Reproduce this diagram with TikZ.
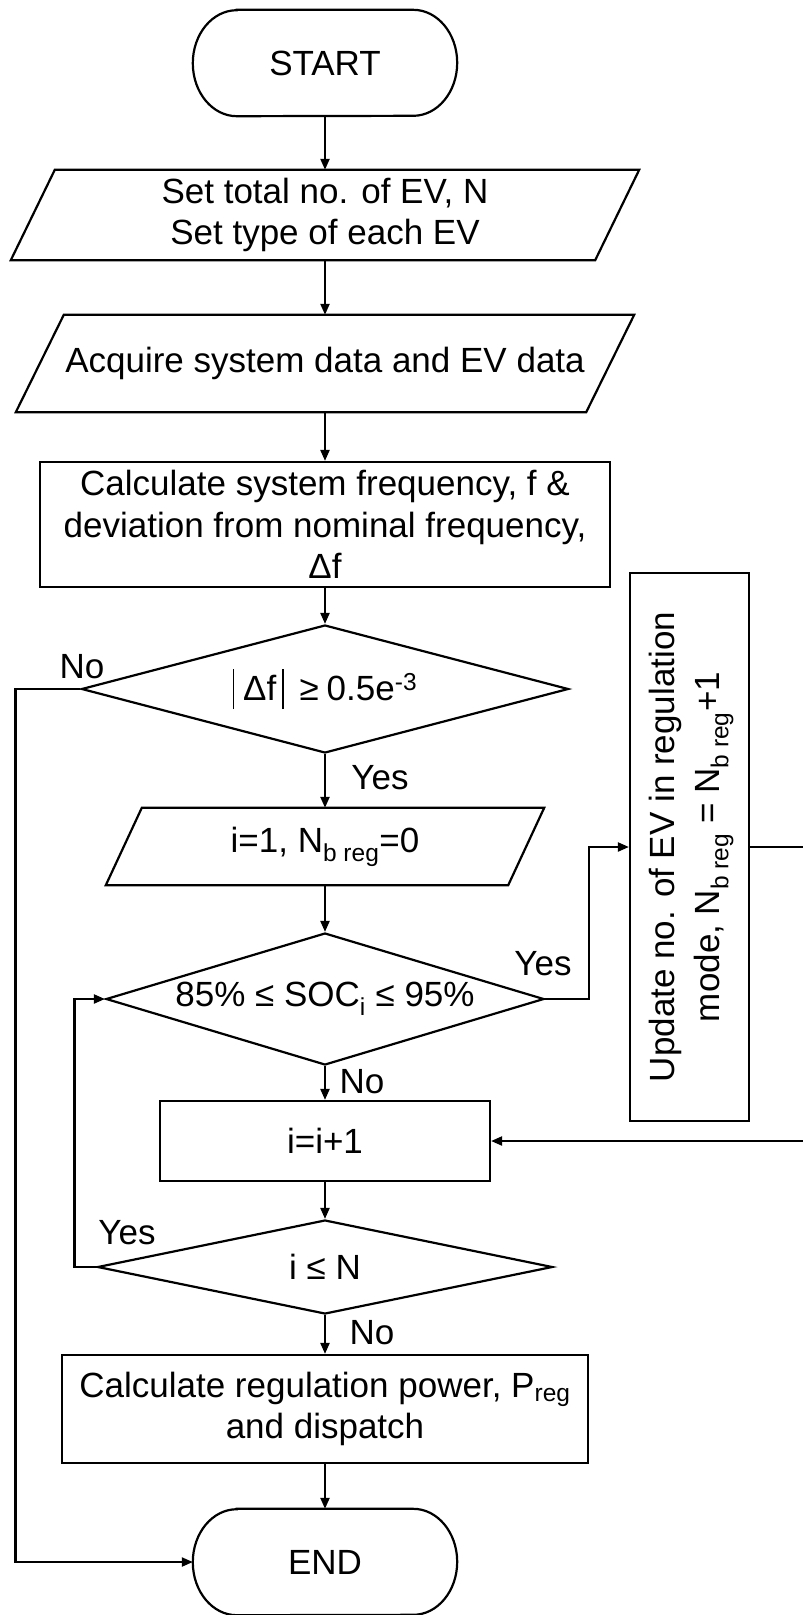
\documentclass[tikz,border=0pt]{standalone}
\usepackage{fontspec}
\usepackage{graphicx}
\setmainfont{Liberation Sans}
\usetikzlibrary{shapes.geometric,arrows.meta}

\tikzset{
  line/.style={line width=2.2pt, draw=black},
  flow/.style={line, -{Triangle[length=11pt,width=9pt]}},
  procbox/.style={rectangle, draw, line width=2.2pt, align=center, inner sep=0pt},
  iobox/.style={rectangle, draw=none, align=center, inner sep=0pt},
  termbox/.style={rectangle, draw=none, inner sep=0pt, minimum width=264pt, minimum height=106pt},
  decision/.style={diamond, draw, line width=2.2pt, inner sep=0pt, aspect=3.5},
  lbl/.style={inner sep=0pt},
}

% outline of an input/output parallelogram around a named node
\newcommand\ioframe[2]{\draw[line] ([xshift=#2]#1.north west) -- ([xshift=#2]#1.north east)
  -- ([xshift=-#2]#1.south east) -- ([xshift=-#2]#1.south west) -- cycle;}
% outline of a terminal (start/end) shape around a named node
\newcommand\termframe[1]{\draw[line] ([xshift=44pt]#1.north west) -- ([xshift=-44pt]#1.north east)
  arc[start angle=90,end angle=-90,x radius=44pt,y radius=53pt]
  -- ([xshift=44pt]#1.south west)
  arc[start angle=270,end angle=90,x radius=44pt,y radius=53pt] -- cycle;}
% thin tall bar for the absolute value
\newcommand\absbar{\rule[-9pt]{1.3pt}{40pt}}

\begin{document}
\begin{tikzpicture}[x=1pt,y=1pt,font=\fontsize{35}{41.5}\selectfont]
\useasboundingbox (0,0) rectangle (803,-1615);
\clip (0,0) rectangle (803,-1615);
\fill[white] (0,0) rectangle (803,-1615);

% nodes (main column centred at x = 325)
\node[termbox] (start) at (325,-63) {START};
\termframe{start}

\node[iobox, minimum width=584pt, minimum height=90pt] (p1) at (325,-215)
  {Set total no. of EV, N\\Set type of each EV};
\ioframe{p1}{22pt}

\node[iobox, minimum width=570pt, minimum height=97pt] (p2) at (325,-363.5)
  {Acquire system data and EV data};
\ioframe{p2}{24pt}

\node[procbox, minimum width=570pt, minimum height=125pt] (c1) at (325,-524.5)
  {Calculate system frequency, f \&\\deviation from nominal frequency,\\Δf};

\node[decision, minimum width=487pt, minimum height=128pt] (d1) at (325,-689)
  {\absbar\hspace{9pt}Δf\hspace{6pt}\absbar\hspace{16pt}≥\hspace{8pt}0.5e\textsuperscript{-3}};

\node[iobox, minimum width=402pt, minimum height=77pt] (p3) at (325,-846.5)
  {i=1, N\textsubscript{b reg}=0};
\ioframe{p3}{18pt}

\node[decision, minimum width=438pt, minimum height=132pt] (d2) at (325,-999)
  {85\% ≤ SOC\textsubscript{i} ≤ 95\%};

\node[procbox, minimum width=119pt, minimum height=548pt] (upd) at (689.5,-847)
  {\rotatebox{90}{\begin{tabular}{@{}c@{}}Update no. of EV in regulation\\[3pt]
   mode, N\textsubscript{b reg} = N\textsubscript{b reg}+1\end{tabular}}};

\node[procbox, minimum width=330pt, minimum height=80pt] (inc) at (325,-1141) {i=i+1};

\node[decision, minimum width=455pt, minimum height=94pt] (d3) at (325,-1267) {i ≤ N};

\node[procbox, minimum width=526pt, minimum height=108pt] (c2) at (325,-1409)
  {Calculate regulation power, P\textsubscript{reg}\\and dispatch};

\node[termbox] (end) at (325,-1562) {END};
\termframe{end}

% branch labels
\node[lbl] (no1) at (82,-667) {No};
\node[lbl] (yes1) at (380,-778) {Yes};
\node[lbl] (yes2) at (543,-964) {Yes};
\node[lbl] (no2) at (362,-1082) {No};
\node[lbl] (yes3) at (127,-1233) {Yes};
\node[lbl] (no3) at (372,-1333) {No};

\coordinate (rc) at (812,-1141);

% connectors
\draw[flow] (start.south) -- (p1.north);
\draw[flow] (p1.south) -- (p2.north);
\draw[flow] (p2.south) -- (c1.north);
\draw[flow] (c1.south) -- (d1.north);
\draw[flow] (d1.south) -- (p3.north);
\draw[flow] (p3.south) -- (d2.north);
\draw[flow] (d2.east) -- ++(44,0) |- (upd.west);
\draw[flow] (upd.east) -| (rc) -- (inc.east);
\draw[flow] (d2.south) -- (inc.north);
\draw[flow] (inc.south) -- (d3.north);
\draw[flow] (d3.west) -- ++(-22,0) |- (d2.west);
\draw[flow] (d3.south) -- (c2.north);
\draw[flow] (c2.south) -- (end.north);
\draw[flow] (d1.west) -- ++(-65,0) |- (end.west);
\end{tikzpicture}
\end{document}
